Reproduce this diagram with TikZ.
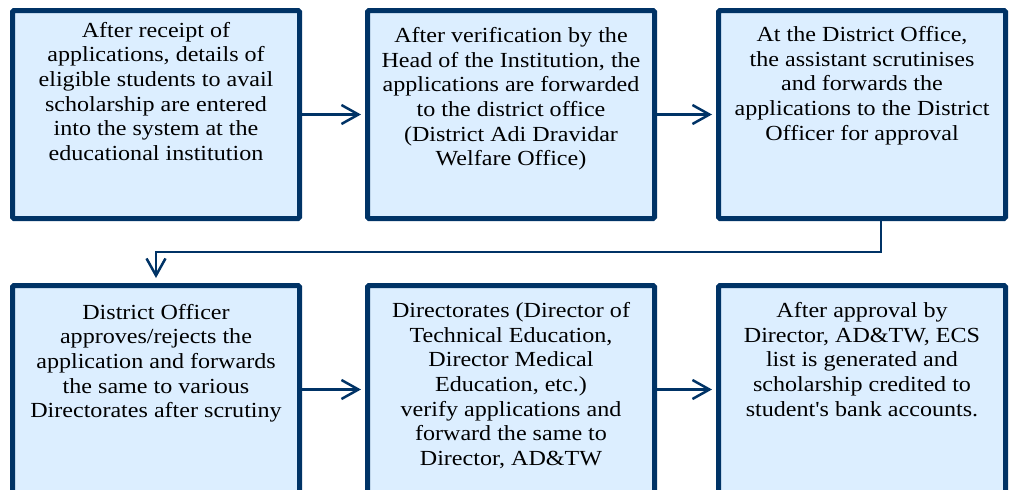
\documentclass[tikz,border=0pt]{standalone}
\usepackage{fontspec}
\setmainfont{Liberation Serif}[FakeStretch=1.12,Ligatures=TeXOff]
\usetikzlibrary{arrows.meta}
\definecolor{navy}{RGB}{0,51,102}
\definecolor{paleblue}{RGB}{220,238,255}
\newcommand{\boxtext}[2]{\parbox[c][208pt][t]{280pt}{\centering\fontsize{21.5}{24.6}\selectfont\vspace*{#1pt}\strut #2\par}}

\begin{document}
\begin{tikzpicture}[x=1pt,y=-1pt,
    stage/.style = {rectangle,draw=navy,fill=paleblue,line width=5pt,rounded corners=1.5pt,
                    minimum width=287pt,minimum height=208pt,inner sep=0pt},
    link/.style = {draw=navy,line width=2.5pt,-{Straight Barb[length=17pt,width=19pt]},shorten >=4pt}]
\useasboundingbox (0,0) rectangle (1010,490);
\clip (0,0) rectangle (1010,490);
\node[stage] (entry) at (156,114.5) {\boxtext{9.5}{After receipt of\\ applications, details of\\ eligible students to avail\\ scholarship are entered\\ into the system at the\\ educational institution}};
\node[stage] (verify) at (511,114.5) {\boxtext{15}{After verification by the\\ Head of the Institution, the\\ applications are forwarded\\ to the district office\\ (District Adi Dravidar\\ Welfare Office)}};
\node[stage] (office) at (862,114.5) {\boxtext{14}{At the District Office,\\ the assistant scrutinises\\ and forwards the\\ applications to the District\\ Officer for approval}};
\node[stage] (officer) at (156,389.5) {\boxtext{16.5}{District Officer\\ approves/rejects the\\ application and forwards\\ the same to various\\ Directorates after scrutiny}};
\node[stage] (director) at (511,389.5) {\boxtext{15}{Directorates (Director of\\ Technical Education,\\ Director Medical\\ Education, etc.)\\ verify applications and\\ forward the same to\\ Director, AD\&TW}};
\node[stage] (credit) at (862,389.5) {\boxtext{15}{After approval by\\ Director, AD\&TW, ECS\\ list is generated and\\ scholarship credited to\\ student's bank accounts.}};
% arrows between the boxes of one row
\foreach \a/\b in {entry/verify, verify/office, officer/director, director/credit}
    \draw[link] (\a.east) -- (\b.west);
% from the first row down to the second
\draw[link,shorten >=5pt] ([xshift=19pt]office.south) -- ++(0,31) -| (officer.north);
\end{tikzpicture}
\end{document}
